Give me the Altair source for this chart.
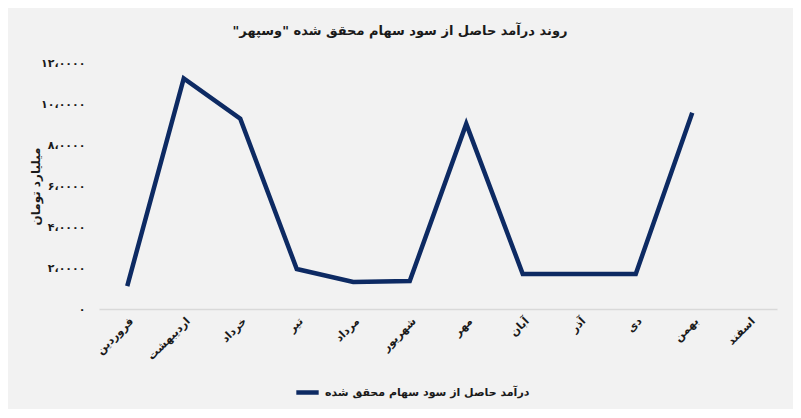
import altair as alt
import pandas as pd

months = ["فروردین", "اردیبهشت", "خرداد", "تیر", "مرداد", "شهریور",
          "مهر", "آبان", "آذر", "دی", "بهمن", "اسفند"]
values = [11200, 112500, 92800, 19500, 13200, 13600,
          90300, 17100, 17100, 17100, 95700, None]
series_name = "درآمد حاصل از سود سهام محقق شده"
title_text = '\u202bروند درآمد حاصل از سود سهام محقق شده "وسپهر"\u202c'
y_title = "میلیارد تومان"
ytick_values = [0, 20000, 40000, 60000, 80000, 100000, 120000]
ytick_labels = ["۰", "۲،۰۰۰۰", "۴،۰۰۰۰", "۶،۰۰۰۰", "۸،۰۰۰۰", "۱۰،۰۰۰۰", "۱۲،۰۰۰۰"]

df = pd.DataFrame({"month": months, "value": values, "series": series_name})

label_expr = "''"
for v, l in zip(reversed(ytick_values), reversed(ytick_labels)):
    label_expr = f"datum.value == {v} ? '{l}' : ({label_expr})"

FONT = "DejaVu Sans"
NAVY = "#0d2a63"

chart = alt.Chart(df).mark_line(strokeWidth=4.5, strokeCap="butt", strokeJoin="miter").encode(
    x=alt.X("month:O", sort=months, title=None,
            scale=alt.Scale(padding=0.5),
            axis=alt.Axis(labelAngle=-45, labelFont=FONT, labelFontWeight="bold",
                          labelFontSize=11, labelColor="#1a1a1a", ticks=False,
                          domainColor="#d9d9d9", domainWidth=1.5, labelPadding=6)),
    y=alt.Y("value:Q", title=y_title,
            scale=alt.Scale(domain=[0, 120000], nice=False),
            axis=alt.Axis(values=ytick_values, labelExpr=label_expr, grid=False,
                          domain=False, ticks=False, labelPadding=14,
                          labelFont=FONT, labelFontWeight="bold", labelFontSize=11,
                          labelColor="#1a1a1a", titleFont=FONT, titleFontWeight="bold",
                          titleFontSize=12, titleColor="#1a1a1a", titlePadding=-2)),
    color=alt.Color("series:N", scale=alt.Scale(domain=[series_name], range=[NAVY]),
                    legend=alt.Legend(title=None, orient="none", legendX=195, legendY=316,
                                      symbolType="stroke", symbolStrokeWidth=4.5,
                                      symbolSize=500, labelFont=FONT, labelLimit=0,
                                      labelFontWeight="bold", labelFontSize=11,
                                      labelColor="#1a1a1a")),
).properties(
    width=678, height=246,
    autosize=alt.AutoSizeParams(type="none"),
    padding={"left": 91, "top": 55, "right": 16, "bottom": 100},
    title=alt.TitleParams(title_text, font=FONT, fontWeight="bold", fontSize=13,
                          color="#1a1a1a", dx=-38, offset=19),
    background="#f2f2f2",
).configure_view(stroke=None)

chart.save("out.html", embed_options={"renderer": "svg", "actions": False})
